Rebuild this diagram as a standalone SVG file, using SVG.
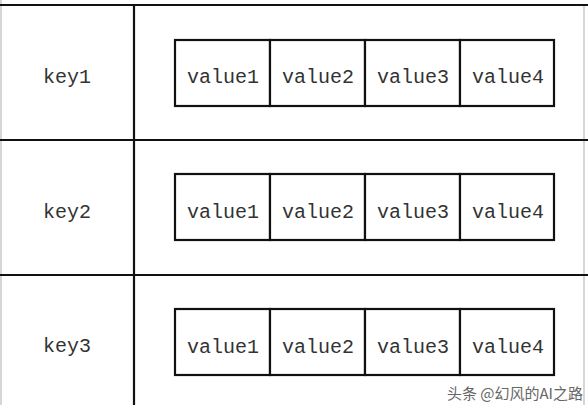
<svg xmlns="http://www.w3.org/2000/svg" width="588" height="405" viewBox="0 0 588 405">
<style>
.grid{stroke:#111;stroke-width:2.2;fill:none}
.edge{stroke:#c8c8c8;stroke-width:1.5;fill:none}
.cell{stroke:#111;stroke-width:2.2;fill:#fff}
.t{font-family:"Liberation Mono",monospace;font-size:20px;fill:#333;text-anchor:middle}
.wm{font-family:"Noto Sans CJK SC","Liberation Sans",sans-serif;font-size:15px;fill:#666;text-anchor:end}
</style>
<rect width="588" height="405" fill="#fff"/>
<g id="connectors">
<line class="edge" x1="1" y1="0" x2="1" y2="405"/>
<line class="edge" x1="584" y1="5" x2="584" y2="405"/>
<line class="grid" x1="0" y1="5" x2="588" y2="5"/>
<line class="grid" x1="0" y1="140" x2="588" y2="140"/>
<line class="grid" x1="0" y1="275" x2="588" y2="275"/>
<line class="grid" x1="134" y1="4" x2="134" y2="405"/>
</g>
<g id="key1"><text class="t" x="67" y="83">key1</text></g>
<g id="key2"><text class="t" x="67" y="218">key2</text></g>
<g id="key3"><text class="t" x="67" y="352">key3</text></g>
<g id="values1">
<rect class="cell" x="175" y="40" width="95" height="66"/>
<rect class="cell" x="270" y="40" width="95" height="66"/>
<rect class="cell" x="365" y="40" width="95" height="66"/>
<rect class="cell" x="460" y="40" width="94" height="66"/>
<text class="t" x="223" y="83">value1</text>
<text class="t" x="318" y="83">value2</text>
<text class="t" x="413" y="83">value3</text>
<text class="t" x="508" y="83">value4</text>
</g>
<g id="values2">
<rect class="cell" x="175" y="174" width="95" height="66"/>
<rect class="cell" x="270" y="174" width="95" height="66"/>
<rect class="cell" x="365" y="174" width="95" height="66"/>
<rect class="cell" x="460" y="174" width="94" height="66"/>
<text class="t" x="223" y="218">value1</text>
<text class="t" x="318" y="218">value2</text>
<text class="t" x="413" y="218">value3</text>
<text class="t" x="508" y="218">value4</text>
</g>
<g id="values3">
<rect class="cell" x="175" y="309" width="95" height="66"/>
<rect class="cell" x="270" y="309" width="95" height="66"/>
<rect class="cell" x="365" y="309" width="95" height="66"/>
<rect class="cell" x="460" y="309" width="94" height="66"/>
<text class="t" x="223" y="353">value1</text>
<text class="t" x="318" y="353">value2</text>
<text class="t" x="413" y="353">value3</text>
<text class="t" x="508" y="353">value4</text>
</g>
<g id="watermark"><text class="wm" x="583" y="399">头条 @幻风的AI之路</text></g>
</svg>
